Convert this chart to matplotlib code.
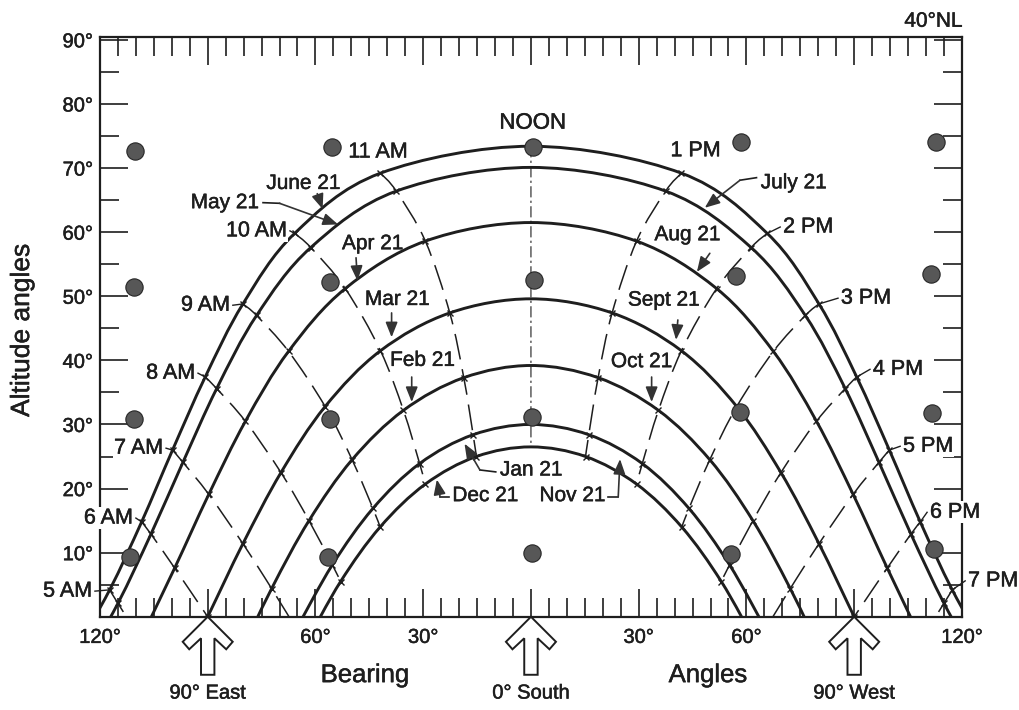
import matplotlib
matplotlib.use('Agg')
import matplotlib.pyplot as plt
import matplotlib.transforms as mtransforms
import matplotlib.patheffects as pe
from matplotlib.path import Path
from matplotlib.patches import PathPatch, Polygon
import numpy as np

plt.rcParams['font.family'] = ['Liberation Sans', 'DejaVu Sans']

# Sun path at 40 deg N: bearing from south and altitude (deg), hour by hour
# starting at noon and going outward (afternoon is the mirror of morning)
june_bearing = [0, 41.9, 65.8, 80.2, 90.7, 99.8, 108.4, 117.3, 127.0]
june_alt = [73.4, 69.2, 59.8, 48.8, 37.4, 26.0, 14.8, 4.2, -5.5]
may_bearing = [0, 37.5, 61.3, 76.4, 87.5, 96.9, 105.8, 115.0, 124.9]
may_alt = [70.1, 66.4, 57.6, 47.0, 35.6, 24.1, 12.9, 2.1, -7.8]
apr_bearing = [0, 29.4, 51.7, 67.5, 79.5, 89.7, 99.2, 108.7]
apr_alt = [61.5, 58.6, 51.2, 41.4, 30.5, 19.1, 7.6, -3.5]
mar_bearing = [0, 22.6, 41.9, 57.3, 69.6, 80.2, 90.0, 99.8]
mar_alt = [49.6, 47.4, 41.5, 32.8, 22.5, 11.4, 0.0, -11.4]
feb_bearing = [0, 18.7, 35.5, 49.8, 61.8, 72.2, 81.8]
feb_alt = [39.2, 37.3, 32.2, 24.5, 15.0, 4.4, -6.8]
jan_bearing = [0, 16.1, 31.0, 44.0, 55.3, 65.3]
jan_alt = [30.0, 28.4, 23.9, 16.9, 8.1, -1.9]
dec_bearing = [0, 15.2, 29.4, 42.0, 53.0, 62.7]
dec_alt = [26.5, 25.0, 20.7, 14.0, 5.5, -4.2]

am_hours = ['NOON', '11 AM', '10 AM', '9 AM', '8 AM', '7 AM', '6 AM', '5 AM']
pm_hours = ['NOON', '1 PM', '2 PM', '3 PM', '4 PM', '5 PM', '6 PM', '7 PM']

# reference dots on the chart
dot_x = [-110.2, -55.5, 0.5, 58.5, 112.8,
         -110.4, -56.0, 0.9, 57.1, 111.4,
         -110.4, -56.0, 0.2, 58.2, 111.6,
         -111.6, -56.4, 0.2, 55.7, 112.3]
dot_y = [72.7, 73.3, 73.3, 74.1, 74.0,
         51.5, 52.2, 52.5, 53.1, 53.4,
         30.8, 30.8, 31.2, 32.0, 31.8,
         9.3, 9.4, 10.0, 9.8, 10.5]

x_ticks = [-120, -90, -60, -30, 0, 30, 60, 90, 120]
x_ticklabels = ['120°', '', '60°', '30°', '', '30°', '60°', '', '120°']
y_ticks = [0, 10, 20, 30, 40, 50, 60, 70, 80, 90]
y_ticklabels = ['', '10°', '20°', '30°', '40°', '50°', '60°', '70°', '80°', '90°']

compass_bearings = [-90, 0, 90]
compass_labels = ['90° East', '0° South', '90° West']

ink = '#1e1e1e'
heavy = [pe.withStroke(linewidth=0.35, foreground=ink)]


def smooth_path(xs, ys):
    # Catmull-Rom through the points, handed to matplotlib as cubic Bezier segments
    pts = np.column_stack([xs, ys]).astype(float)
    ext = np.vstack([pts[0], pts, pts[-1]])
    verts = [pts[0]]
    codes = [Path.MOVETO]
    for i in range(1, len(pts)):
        p0, p1, p2, p3 = ext[i - 1], ext[i], ext[i + 1], ext[i + 2]
        verts += [p1 + (p2 - p0) / 6, p2 - (p3 - p1) / 6, p2]
        codes += [Path.CURVE4] * 3
    return Path(verts, codes)


def full_day(bearing, alt):
    xs = [-b for b in bearing[::-1]] + bearing[1:]
    ys = alt[::-1] + alt[1:]
    return xs, ys


def label(x, y, s, size, **kw):
    kw.setdefault('ha', 'center')
    kw.setdefault('va', 'center')
    return ax.text(x, y, s, fontsize=size, color=ink, path_effects=heavy, **kw)


fig = plt.figure(figsize=(10.19, 7.10), dpi=100)
ax = fig.add_axes([0.0981, 0.1313, 0.8459, 0.8162])

paths = [(june_bearing, june_alt), (may_bearing, may_alt), (apr_bearing, apr_alt),
         (mar_bearing, mar_alt), (feb_bearing, feb_alt), (jan_bearing, jan_alt),
         (dec_bearing, dec_alt)]

# daily sun paths
for bearing, alt in paths:
    xs, ys = full_day(bearing, alt)
    ax.add_patch(PathPatch(smooth_path(xs, ys), fill=False, ec=ink, lw=2.1, zorder=3))

# hour lines joining the same clock time on every path
for k in range(0, 8):
    for side in (-1, 1):
        if k == 0 and side == 1:
            continue
        hx, hy = [], []
        for bearing, alt in paths:
            if k >= len(bearing):
                break
            hx.append(side * bearing[k])
            hy.append(alt[k])
            if alt[k] < 0:
                break
        if len(hx) < 2:
            continue
        if k == 0:
            ax.add_patch(PathPatch(smooth_path(hx, hy), fill=False, ec=ink, lw=0.8,
                                   ls=(0, (10, 3, 2, 3)), zorder=2))
        else:
            ax.add_patch(PathPatch(smooth_path(hx, hy), fill=False, ec=ink, lw=1.1,
                                   ls=(0, (17, 6.5)), zorder=2))
            mx = [x for x, y in zip(hx, hy) if y >= 0]
            my = [y for y in hy if y >= 0]
            ax.plot(mx, my, 'x', ms=5, mew=1.0, color=ink, zorder=3)

ax.scatter(dot_x, dot_y, s=155, color='#575757', edgecolors='#262626', lw=0.8, zorder=5)

# hour labels at the June path
hour_label_pos = {
    '11 AM': (-42.6, 72.5, 'center'), '10 AM': (-67.9, 60.2, 'right'),
    '9 AM': (-83.8, 48.6, 'right'), '8 AM': (-93.5, 38.0, 'right'),
    '7 AM': (-102.4, 26.3, 'right'), '6 AM': (-110.8, 15.4, 'right'),
    '5 AM': (-122.2, 4.0, 'right'),
    '1 PM': (45.8, 72.7, 'center'), '2 PM': (70.2, 60.8, 'left'),
    '3 PM': (86.3, 49.7, 'left'), '4 PM': (95.2, 38.6, 'left'),
    '5 PM': (103.6, 26.6, 'left'), '6 PM': (111.1, 16.3, 'left'),
    '7 PM': (121.7, 5.6, 'left'),
}
for k in range(1, 8):
    for side, names in ((-1, am_hours), (1, pm_hours)):
        name = names[k]
        lx, ly, ha = hour_label_pos[name]
        label(lx, ly, name, 15.5, ha=ha, zorder=6,
              bbox=dict(fc='white', ec='none', pad=0.5))
        if ha != 'center':
            px, py = side * june_bearing[k], june_alt[k]
            ex = lx - side * 0.8
            ax.plot([px, ex], [py, ly], color=ink, lw=1.0, zorder=3, clip_on=False)
label(0.5, 77.0, 'NOON', 16)

# date labels and their pointers
date_labels = [('June 21', -63.3, 67.6), ('May 21', -85.2, 64.6), ('July 21', 73.2, 67.7),
               ('Apr 21', -44.1, 58.2), ('Aug 21', 43.6, 59.6), ('Mar 21', -37.2, 49.5),
               ('Sept 21', 37.0, 49.4), ('Feb 21', -30.2, 40.0), ('Oct 21', 30.8, 39.8),
               ('Jan 21', 0.1, 22.9), ('Dec 21', -12.7, 18.9), ('Nov 21', 11.6, 18.9)]
for text, lx, ly in date_labels:
    label(lx, ly, text, 15, zorder=6)

pointers = [
    [(-59.5, 66.0), (-58.0, 63.6)],
    [(-74.6, 64.6), (-70.0, 64.5), (-53.7, 61.2)],
    [(62.8, 68.5), (58.2, 68.1), (48.4, 63.8)],
    [(-48.7, 56.0), (-48.3, 52.4)],
    [(49.8, 56.7), (46.2, 53.8)],
    [(-38.8, 47.4), (-38.8, 43.6)],
    [(40.9, 46.3), (40.4, 43.2)],
    [(-33.2, 37.4), (-33.2, 33.5)],
    [(33.6, 37.4), (33.6, 33.5)],
    [(-9.8, 22.6), (-14.2, 22.9), (-18.5, 27.0)],
    [(-22.9, 18.7), (-25.3, 18.7), (-26.2, 21.4)],
    [(21.5, 18.7), (24.3, 18.7), (24.8, 24.6)],
]
for pts in pointers:
    if len(pts) > 2:
        ax.plot([p[0] for p in pts[:-1]], [p[1] for p in pts[:-1]], color=ink, lw=1.2, zorder=6)
    ax.annotate('', xy=pts[-1], xytext=pts[-2], zorder=6,
                arrowprops=dict(arrowstyle='-|>,head_length=0.7,head_width=0.28', color='#333333',
                                lw=1.2, shrinkA=0, shrinkB=0, mutation_scale=13))

# frame and ticks
ax.set_xlim(-120, 120)
ax.set_ylim(0, 90.4)
for sp in ax.spines.values():
    sp.set_linewidth(1.6)
    sp.set_color(ink)
ax.set_xticks(x_ticks)
ax.set_xticklabels(x_ticklabels, fontsize=14.5)
ax.set_xticks(np.arange(-120, 121, 5), minor=True)
ax.set_yticks(y_ticks)
ax.set_yticklabels(y_ticklabels, fontsize=14.5)
ax.set_yticks(np.arange(0, 91, 5), minor=True)
for t in ax.get_xticklabels() + ax.get_yticklabels():
    t.set_path_effects(heavy)
    t.set_color(ink)
ax.tick_params(which='both', direction='in', top=True, right=True, color=ink, width=1.2)
ax.tick_params(which='major', length=20)
ax.tick_params(which='minor', length=13.5)
ax.tick_params(axis='x', pad=8)
ax.tick_params(axis='y', pad=5)

# hollow arrows marking east, south and west
arrow_shape = np.array([[0, 0], [-25, -25], [-18.5, -32.5], [-6.7, -21.5], [-6.7, -58],
                        [6.7, -58], [6.7, -21.5], [18.5, -32.5], [25, -25]]) / 100.0
for xb, lab in zip(compass_bearings, compass_labels):
    tr = fig.dpi_scale_trans + mtransforms.ScaledTranslation(xb, 0, ax.transData)
    ax.add_artist(Polygon(arrow_shape, closed=True, fc='white', ec=ink, lw=1.4,
                          transform=tr, clip_on=False, zorder=7))
    label(xb, -11.9, lab, 14.5)

label(-46.2, -9.1, 'Bearing', 18.5)
label(49.3, -9.1, 'Angles', 18.5)
label(-141.7, 44.7, 'Altitude angles', 19, rotation=90)
label(120.3, 92.9, '40°NL', 15, ha='right')

fig.savefig('out.png', dpi=100, facecolor='white')
